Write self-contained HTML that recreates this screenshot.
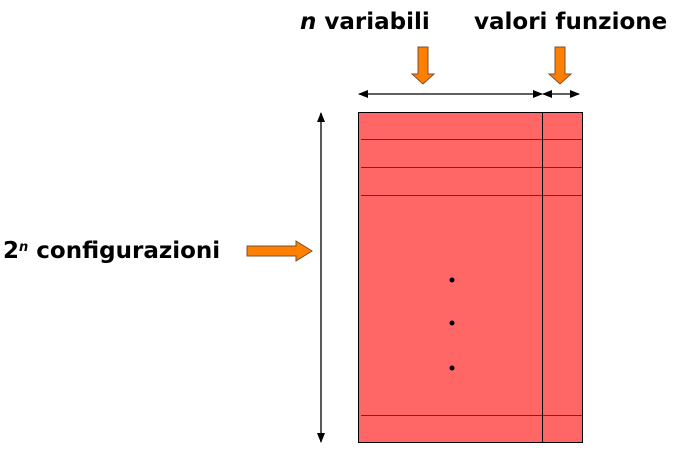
<!DOCTYPE html>
<html><head><meta charset="utf-8"><style>
html,body{margin:0;padding:0;background:#fff;}
svg{display:block}
text{font-family:"Comic Sans MS","DejaVu Sans","Liberation Sans",sans-serif;font-weight:bold;fill:#000}
</style></head><body>
<svg width="684" height="458" viewBox="0 0 684 458" xmlns="http://www.w3.org/2000/svg">
<defs>
<marker id="a" markerWidth="10" markerHeight="8" refX="9" refY="4" orient="auto" markerUnits="userSpaceOnUse">
<path d="M0,0 L10,4 L0,8 z" fill="#000"/></marker>
</defs>
<text x="300" y="29" font-size="23"><tspan font-style="italic">n</tspan> variabili</text>
<text x="474" y="29" font-size="23">valori funzione</text>
<text x="3" y="258" font-size="23">2<tspan font-size="13" dy="-7" font-style="italic">n</tspan><tspan dy="7"> configurazioni</tspan></text>
<!-- orange arrows -->
<path d="M418,47 H428 V74 H434 L423,84 L412,74 H418 Z" fill="#ff7f00" stroke="#7a5030" stroke-width="1"/>
<path d="M555,47 H565 V74 H571 L560,84 L549,74 H555 Z" fill="#ff7f00" stroke="#7a5030" stroke-width="1"/>
<path d="M247,246 H296 V241 L312,251 L296,261 V256 H247 Z" fill="#ff7f00" stroke="#7a5030" stroke-width="1"/>
<!-- dimension arrows -->
<line x1="450" y1="94" x2="359" y2="94" stroke="#000" stroke-width="1.3" marker-end="url(#a)"/>
<line x1="450" y1="94" x2="542" y2="94" stroke="#000" stroke-width="1.3" marker-end="url(#a)"/>
<line x1="560" y1="94" x2="543" y2="94" stroke="#000" stroke-width="1.3" marker-end="url(#a)"/>
<line x1="560" y1="94" x2="579" y2="94" stroke="#000" stroke-width="1.3" marker-end="url(#a)"/>
<line x1="321" y1="270" x2="321" y2="113" stroke="#000" stroke-width="1.3" marker-end="url(#a)"/>
<line x1="321" y1="270" x2="321" y2="442" stroke="#000" stroke-width="1.3" marker-end="url(#a)"/>
<!-- table -->
<rect x="358.5" y="112.5" width="224" height="330" fill="#ff6666" stroke="#000" stroke-width="1"/>
<g stroke="#6a2a2a" stroke-width="1">
<line x1="361" y1="139.5" x2="582" y2="139.5"/>
<line x1="361" y1="167.5" x2="582" y2="167.5"/>
<line x1="361" y1="195.5" x2="582" y2="195.5"/>
<line x1="361" y1="415.5" x2="582" y2="415.5"/>
</g>
<line x1="542.5" y1="113" x2="542.5" y2="442" stroke="#000" stroke-width="1"/>
<circle cx="452" cy="280" r="2.5" fill="#000"/>
<circle cx="452" cy="323" r="2.5" fill="#000"/>
<circle cx="452" cy="368" r="2.5" fill="#000"/>
</svg>
</body></html>
